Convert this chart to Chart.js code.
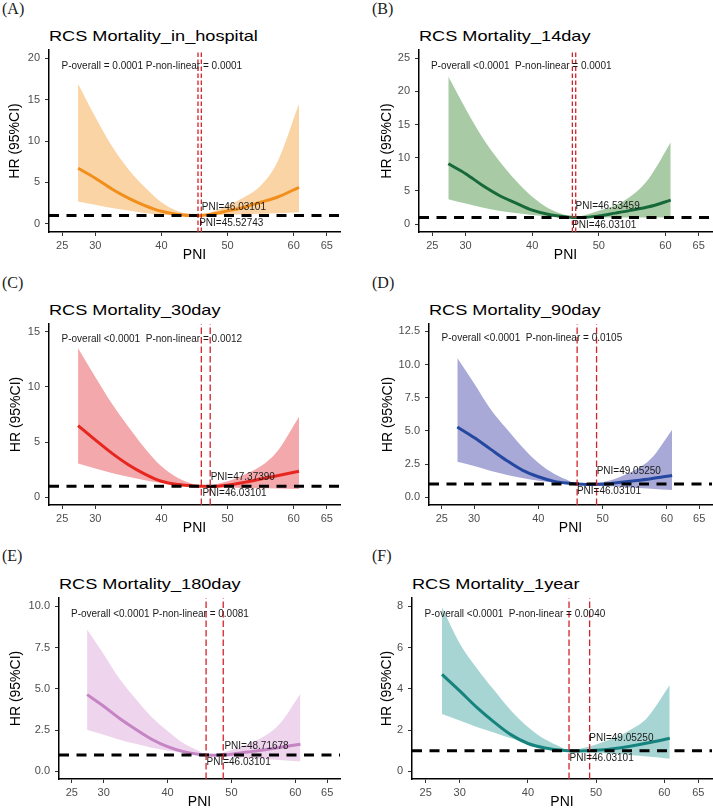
<!DOCTYPE html>
<html lang="en">
<head>
<meta charset="UTF-8">
<title>RCS curves: PNI and mortality</title>
<script src="https://cdn.jsdelivr.net/npm/chart.js"></script>
<style>
  body { margin: 0; background: #fff; }
  #page { position: relative; width: 713px; height: 809px; overflow: hidden; background: #fff; }
  .tag { position: absolute; font-family: "Liberation Serif", "Times New Roman", serif; font-size: 16px; line-height: 16px; color: #1a1a1a; }
  .title { position: absolute; font-family: "Liberation Sans", Arial, sans-serif; font-size: 15px; line-height: 16px; color: #000; white-space: nowrap; transform: scaleX(1.21); transform-origin: 0 0; }
  canvas { position: absolute; }
</style>
</head>
<body>
<div id="page"></div>
<script>
// PNI grid shared by the six spline fits
const pni = [27.4, 30, 32.5, 35, 37.5, 40, 42.5, 45, 46, 47.5, 50, 52.5, 55, 57.5, 60.8];
const xTickValues = [25, 30, 40, 50, 60, 65];
const xLimits = [23, 67];
const hrRef = 1;

// (A) in hospital
const hrHospital = [6.7, 5.5, 4.2, 3.1, 2.2, 1.5, 1.12, 0.98, 1.0, 1.15, 1.55, 2.0, 2.6, 3.2, 4.4];
const upHospital = [16.9, 12.9, 9.4, 6.6, 4.4, 2.6, 1.5, 1.05, 1.0, 1.35, 2.2, 3.2, 4.6, 7.4, 14.5];
const loHospital = [2.7, 2.3, 1.9, 1.6, 1.3, 1.1, 1.0, 0.93, 1.0, 1.02, 1.08, 1.16, 1.2, 1.28, 1.4];

// (B) 14 day
const hr14 = [9.1, 7.6, 5.85, 4.35, 3.2, 2.1, 1.45, 1.1, 1.0, 0.99, 1.22, 1.65, 2.1, 2.6, 3.6];
const up14 = [22.25, 17.4, 13.1, 9.6, 6.6, 4.1, 2.35, 1.35, 1.0, 1.25, 2.0, 2.85, 4.35, 6.85, 12.35];
const lo14 = [3.75, 3.1, 2.5, 2.0, 1.65, 1.35, 1.15, 1.02, 1.0, 0.98, 0.97, 0.97, 0.97, 0.97, 0.97];

// (C) 30 day
const hr30 = [6.5, 5.2, 4.0, 2.95, 2.1, 1.45, 1.15, 1.02, 1.0, 0.97, 1.1, 1.35, 1.65, 1.95, 2.35];
const up30 = [13.5, 10.9, 8.5, 6.4, 4.45, 2.8, 1.75, 1.15, 1.0, 1.1, 1.45, 2.05, 2.8, 4.15, 7.3];
const lo30 = [3.05, 2.6, 2.2, 1.85, 1.55, 1.3, 1.08, 0.96, 1.0, 0.9, 0.87, 0.85, 0.82, 0.8, 0.75];

// (D) 90 day
const hr90 = [5.3, 4.5, 3.65, 2.8, 2.05, 1.55, 1.2, 1.05, 1.0, 0.97, 0.98, 1.12, 1.25, 1.4, 1.65];
const up90 = [10.5, 8.6, 6.7, 5.2, 3.8, 2.6, 1.75, 1.2, 1.0, 1.05, 1.15, 1.5, 2.05, 2.9, 5.1];
const lo90 = [2.67, 2.35, 2.0, 1.7, 1.45, 1.25, 1.1, 1.0, 1.0, 0.92, 0.87, 0.8, 0.72, 0.65, 0.55];

// (E) 180 day
const hr180 = [4.65, 3.95, 3.2, 2.55, 1.95, 1.5, 1.2, 1.03, 1.0, 0.98, 1.04, 1.17, 1.3, 1.45, 1.65];
const up180 = [8.6, 7.1, 5.6, 4.4, 3.3, 2.45, 1.7, 1.22, 1.0, 1.03, 1.3, 1.65, 2.1, 2.85, 4.7];
const lo180 = [2.5, 2.22, 1.92, 1.67, 1.43, 1.27, 1.12, 1.02, 1.0, 0.94, 0.87, 0.81, 0.75, 0.69, 0.6];

// (F) 1 year
const hr1y = [4.7, 3.9, 3.1, 2.4, 1.78, 1.35, 1.13, 1.02, 1.0, 0.99, 1.02, 1.1, 1.22, 1.37, 1.6];
const up1y = [7.95, 6.2, 5.0, 3.95, 2.95, 2.15, 1.55, 1.15, 1.0, 1.08, 1.3, 1.6, 2.0, 2.6, 4.18];
const lo1y = [2.78, 2.47, 2.15, 1.88, 1.6, 1.37, 1.17, 1.04, 1.0, 0.95, 0.9, 0.85, 0.79, 0.72, 0.61];

const panelTags = ['(A)', '(B)', '(C)', '(D)', '(E)', '(F)'];
const panelTitles = ['RCS Mortality_in_hospital', 'RCS Mortality_14day', 'RCS Mortality_30day',
                     'RCS Mortality_90day', 'RCS Mortality_180day', 'RCS Mortality_1year'];
const yTickSets = [[0, 5, 10, 15, 20], [0, 5, 10, 15, 20, 25], [0, 5, 10, 15],
                   [0, 2.5, 5, 7.5, 10, 12.5], [0, 2.5, 5, 7.5, 10], [0, 2, 4, 6, 8]];
const yDecimals = [0, 0, 0, 1, 1, 0];
const yLimits = [[-1.0, 21.0], [-1.2, 26.25], [-0.7, 15.7], [-0.58, 13.06], [-0.46, 10.5], [-0.37, 8.4]];
const refLines = [[45.52743, 46.03101], [46.03101, 46.53459], [46.03101, 47.3739],
                  [46.03101, 49.0525], [46.03101, 48.71678], [46.03101, 49.0525]];

const pTexts = ['P-overall = 0.0001 P-non-linear = 0.0001', 'P-overall <0.0001  P-non-linear = 0.0001',
                'P-overall <0.0001  P-non-linear = 0.0012', 'P-overall <0.0001  P-non-linear = 0.0105',
                'P-overall <0.0001 P-non-linear = 0.0081', 'P-overall <0.0001  P-non-linear = 0.0040'];
const pTextPos = [[38.55, 19.0], [38.35, 23.75], [38.55, 14.3], [39.0, 11.96], [38.8, 9.54], [38.1, 7.63]];
const knotHiTexts = ['PNI=46.03101', 'PNI=46.53459', 'PNI=47.37390', 'PNI=49.05250', 'PNI=48.71678', 'PNI=49.05250'];
const knotHiPos = [[46.1, 2.0], [46.5, 2.75], [47.45, 1.84], [49.07, 1.94], [48.9, 1.55], [49.0, 1.62]];
const knotLoTexts = ['PNI=45.52743', 'PNI=46.03101', 'PNI=46.03101', 'PNI=46.03101', 'PNI=46.03101', 'PNI=46.03101'];
const knotLoPos = [[45.7, 0.0], [46.0, -0.15], [46.2, 0.33], [46.0, 0.43], [46.1, 0.54], [46.1, 0.63]];

const seriesHr = [hrHospital, hr14, hr30, hr90, hr180, hr1y];
const seriesUp = [upHospital, up14, up30, up90, up180, up1y];
const seriesLo = [loHospital, lo14, lo30, lo90, lo180, lo1y];

// styling
const lineColors = ['#F28E1C', '#17693A', '#E6261F', '#2448A0', '#C584C4', '#16837F'];
const bandColors = ['#FAD4A4', '#A8CBA6', '#F3A8AB', '#A9A9D8', '#EED4EC', '#A7D5D3'];
const refDash = [[4.5, 2.5], [4.5, 2.5], [6.5, 3], [6.5, 3], [6.5, 3], [6.5, 3]];

// where each panel sits on the page
const layout = [
  { left: 0,   top: 38,  width: 356, height: 226, yAxisW: 49, padRight: 16, yTitlePad: 6.6,  titleTop: 28,  tagLeft: 2,   tagTop: 1 },
  { left: 356, top: 38,  width: 357, height: 226, yAxisW: 63, padRight: 1,  yTitlePad: 22.3, titleTop: 28,  tagLeft: 372, tagTop: 1 },
  { left: 0,   top: 312, width: 356, height: 225, yAxisW: 49, padRight: 16, yTitlePad: 7.4,  titleTop: 302, tagLeft: 2,   tagTop: 275 },
  { left: 356, top: 312, width: 357, height: 225, yAxisW: 73, padRight: 1,  yTitlePad: 23.6, titleTop: 302, tagLeft: 372, tagTop: 275 },
  { left: 0,   top: 586, width: 356, height: 225, yAxisW: 59, padRight: 16, yTitlePad: 7.4,  titleTop: 576, tagLeft: 2,   tagTop: 548 },
  { left: 356, top: 586, width: 357, height: 225, yAxisW: 56, padRight: 1,  yTitlePad: 22.3, titleTop: 576, tagLeft: 372, tagTop: 548 }
];

Chart.defaults.font.family = '"Liberation Sans", Arial, Helvetica, sans-serif';

// annotation text placed in data coordinates
const rcsText = {
  id: 'rcsText',
  afterDatasetsDraw(chart, args, opts) {
    const { ctx, scales: { x, y } } = chart;
    ctx.save();
    ctx.font = '10px "Liberation Sans", Arial, sans-serif';
    ctx.fillStyle = '#1a1a1a';
    ctx.textBaseline = 'middle';
    opts.items.forEach(t => {
      ctx.textAlign = t.align;
      ctx.fillText(t.text, x.getPixelForValue(t.x), y.getPixelForValue(t.y));
    });
    ctx.restore();
  }
};

function toPoints(xs, ys) {
  return xs.map((x, i) => ({ x: x, y: ys[i] }));
}

const page = document.getElementById('page');

layout.forEach((box, i) => {
  const tag = document.createElement('div');
  tag.className = 'tag';
  tag.textContent = panelTags[i];
  tag.style.left = box.tagLeft + 'px';
  tag.style.top = box.tagTop + 'px';
  page.appendChild(tag);

  const title = document.createElement('div');
  title.className = 'title';
  title.textContent = panelTitles[i];
  title.style.left = (box.left + box.yAxisW) + 'px';
  title.style.top = box.titleTop + 'px';
  page.appendChild(title);

  const canvas = document.createElement('canvas');
  canvas.width = box.width;
  canvas.height = box.height;
  canvas.style.left = box.left + 'px';
  canvas.style.top = box.top + 'px';
  page.appendChild(canvas);

  const yMin = yLimits[i][0], yMax = yLimits[i][1];
  const datasets = [
    { data: toPoints(pni, seriesUp[i]), fill: '+1', backgroundColor: bandColors[i], borderWidth: 0,
      pointRadius: 0, cubicInterpolationMode: 'monotone', order: 5 },
    { data: toPoints(pni, seriesLo[i]), fill: false, borderWidth: 0,
      pointRadius: 0, cubicInterpolationMode: 'monotone', order: 4 },
    { data: toPoints(pni, seriesHr[i]), fill: false, borderColor: lineColors[i], borderWidth: 3,
      pointRadius: 0, cubicInterpolationMode: 'monotone', order: 3 },
    { data: [{ x: xLimits[0], y: hrRef }, { x: xLimits[1], y: hrRef }], fill: false, borderColor: '#000',
      borderWidth: 3, borderDash: [10, 7.5], pointRadius: 0, order: 2 }
  ];
  refLines[i].forEach(v => {
    datasets.push({ data: [{ x: v, y: yMin }, { x: v, y: yMax }], fill: false, borderColor: '#D2232A',
      borderWidth: 1.3, borderDash: refDash[i], pointRadius: 0, order: 1 });
  });

  const axisGrid = { drawOnChartArea: false, drawTicks: true, tickLength: 4, color: '#333', lineWidth: 1 };
  const axisBorder = { display: true, color: '#000', width: 1.5 };

  new Chart(canvas, {
    type: 'line',
    data: { datasets: datasets },
    options: {
      responsive: false,
      animation: false,
      events: [],
      layout: { padding: { top: 12, right: box.padRight, bottom: 0, left: 0 } },
      plugins: {
        legend: { display: false },
        tooltip: { enabled: false },
        rcsText: {
          items: [
            { text: pTexts[i], x: pTextPos[i][0], y: pTextPos[i][1], align: 'center' },
            { text: knotHiTexts[i], x: knotHiPos[i][0], y: knotHiPos[i][1], align: 'left' },
            { text: knotLoTexts[i], x: knotLoPos[i][0], y: knotLoPos[i][1], align: 'left' }
          ]
        }
      },
      scales: {
        x: {
          type: 'linear', min: xLimits[0], max: xLimits[1],
          afterBuildTicks: s => { s.ticks = xTickValues.map(v => ({ value: v })); },
          afterFit: s => { s.height = 32; },
          grid: axisGrid,
          border: axisBorder,
          ticks: { color: '#4D4D4D', font: { size: 11 }, padding: 3, autoSkip: false, maxRotation: 0,
                   callback: v => String(v) },
          title: { display: true, text: 'PNI', color: '#000', font: { size: 14 }, padding: { top: 0, bottom: 0 } }
        },
        y: {
          type: 'linear', min: yMin, max: yMax,
          afterBuildTicks: s => { s.ticks = yTickSets[i].map(v => ({ value: v })); },
          afterFit: s => { s.width = box.yAxisW; },
          grid: axisGrid,
          border: axisBorder,
          ticks: { color: '#4D4D4D', font: { size: 11 }, padding: 5, callback: v => v.toFixed(yDecimals[i]) },
          title: { display: true, text: 'HR (95%CI)', color: '#000', font: { size: 14 },
                   padding: { top: box.yTitlePad, bottom: 0 } }
        }
      }
    },
    plugins: [rcsText]
  });
});
</script>
</body>
</html>
